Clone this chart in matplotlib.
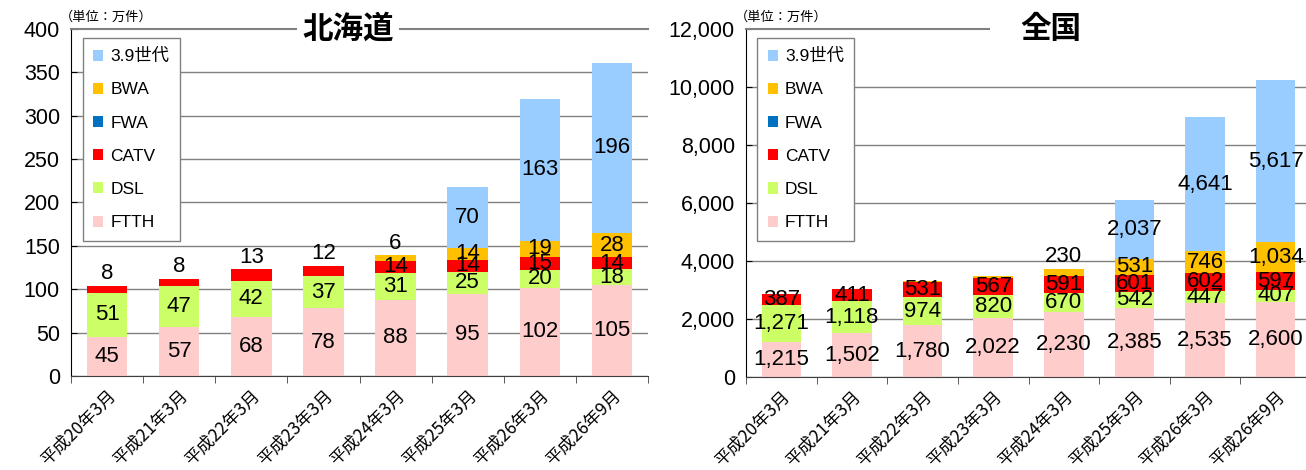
import matplotlib
matplotlib.use('Agg')
import matplotlib.pyplot as plt
import numpy as np

plt.rcParams['font.family'] = ['Liberation Sans', 'Noto Sans CJK JP', 'DejaVu Sans']
cjk = ['Noto Sans CJK JP', 'DejaVu Sans']

periods = ['平成20年3月', '平成21年3月', '平成22年3月', '平成23年3月',
           '平成24年3月', '平成25年3月', '平成26年3月', '平成26年9月']
series = ['FTTH', 'DSL', 'CATV', 'FWA', 'BWA', '3.9世代']
colors = ['#FFCCCC', '#CCFF66', '#FF0000', '#0070C0', '#FFC000', '#99CCFF']

# 北海道 (万件)
hk_ftth = [45, 57, 68, 78, 88, 95, 102, 105]
hk_dsl = [51, 47, 42, 37, 31, 25, 20, 18]
hk_catv = [8, 8, 13, 12, 14, 14, 15, 14]
hk_fwa = [0, 0, 0, 0, 0, 0, 0, 0]
hk_bwa = [0, 0, 0, 0, 6, 14, 19, 28]
hk_lte = [0, 0, 0, 0, 0, 70, 163, 196]

# 全国 (万件)
jp_ftth = [1215, 1502, 1780, 2022, 2230, 2385, 2535, 2600]
jp_dsl = [1271, 1118, 974, 820, 670, 542, 447, 407]
jp_catv = [387, 411, 531, 567, 591, 601, 602, 597]
jp_fwa = [1, 1, 1, 1, 1, 1, 1, 1]
jp_bwa = [0, 0, 15, 70, 230, 531, 746, 1034]
jp_lte = [0, 0, 0, 0, 0, 2037, 4641, 5617]


def draw(ax, data, ymax, ystep, label_min, above_max, title, title_x, fmt, line_to):
    x = np.arange(len(periods))
    bottom = np.zeros(len(periods))
    handles = []
    tops = np.sum(data, axis=0)
    for vals, name, c in zip(data, series, colors):
        vals = np.array(vals, dtype=float)
        h = ax.bar(x, vals, 0.56, bottom=bottom, color=c, label=name, zorder=2)
        handles.append(h)
        for i, v in enumerate(vals):
            if v < label_min:
                continue
            is_top = abs(bottom[i] + v - tops[i]) < label_min
            if is_top and v <= above_max:
                ax.text(x[i], bottom[i] + v + ymax * 0.005, fmt.format(int(v)),
                        ha='center', va='bottom', fontsize=16, zorder=4)
            else:
                ax.text(x[i], bottom[i] + v / 2, fmt.format(int(v)),
                        ha='center', va='center', fontsize=16, zorder=4)
        bottom += vals
    ax.set_xlim(-0.5, len(periods) - 0.5)
    ax.set_ylim(0, ymax)
    ticks = np.arange(0, ymax + 1, ystep)
    ax.set_yticks(ticks)
    ax.set_yticklabels([fmt.format(int(t)) for t in ticks], fontsize=15.5)
    ax.yaxis.grid(True, color='#808080', lw=1)
    ax.get_ygridlines()[-1].set_visible(False)
    ax.set_axisbelow(True)
    ax.set_xticks(x)
    ax.set_xticklabels(periods, rotation=45, ha='right', rotation_mode='anchor',
                       fontsize=12.5, family=cjk)
    ax.tick_params(axis='x', length=0, pad=8)
    ax.set_xticks(np.arange(-0.5, len(periods)), minor=True)
    ax.tick_params(axis='x', which='minor', length=5, color='#404040')
    ax.tick_params(axis='y', length=4, direction='in', pad=8)
    ax.spines['right'].set_visible(False)
    ax.spines['top'].set_visible(False)
    ax.axhline(ymax, xmax=line_to, color='#808080', lw=1.5, clip_on=False, zorder=3)
    ax.spines['left'].set_color('black')
    ax.spines['bottom'].set_color('#404040')
    ax.text(title_x, 1.0, title, transform=ax.transAxes, ha='center', va='center',
            fontsize=22, fontweight='bold', family=cjk, zorder=6,
            bbox=dict(facecolor='white', edgecolor='none', pad=4))
    ax.text(-0.02, 1.015, '（単位：万件）', transform=ax.transAxes, ha='left',
            va='bottom', fontsize=9.5, family=cjk)
    leg = ax.legend(handles[::-1], series[::-1], loc='upper left',
                    bbox_to_anchor=(0.02, 0.975), borderaxespad=0,
                    handlelength=0.6, handleheight=0.6, handletextpad=0.4,
                    labelspacing=1.05, fancybox=False, edgecolor='#808080',
                    framealpha=1, borderpad=0.6,
                    prop={'family': ['Liberation Sans', 'Noto Sans CJK JP'], 'size': 12.5})
    leg.get_frame().set_linewidth(1)
    leg.set_zorder(5)


fig = plt.figure(figsize=(13.06, 4.70), dpi=100)
ax1 = fig.add_axes([71 / 1306, 94 / 470, 577 / 1306, 347 / 470])
ax2 = fig.add_axes([746 / 1306, 93 / 470, 565 / 1306, 348 / 470])

draw(ax1, [hk_ftth, hk_dsl, hk_catv, hk_fwa, hk_bwa, hk_lte], 400, 50, 1, 13,
     '北海道', 0.48, '{:d}', 1.0)
draw(ax2, [jp_ftth, jp_dsl, jp_catv, jp_fwa, jp_bwa, jp_lte], 12000, 2000, 100, 300,
     '全国', 0.54, '{:,}', 0.43)

fig.savefig('out.png', dpi=100)
